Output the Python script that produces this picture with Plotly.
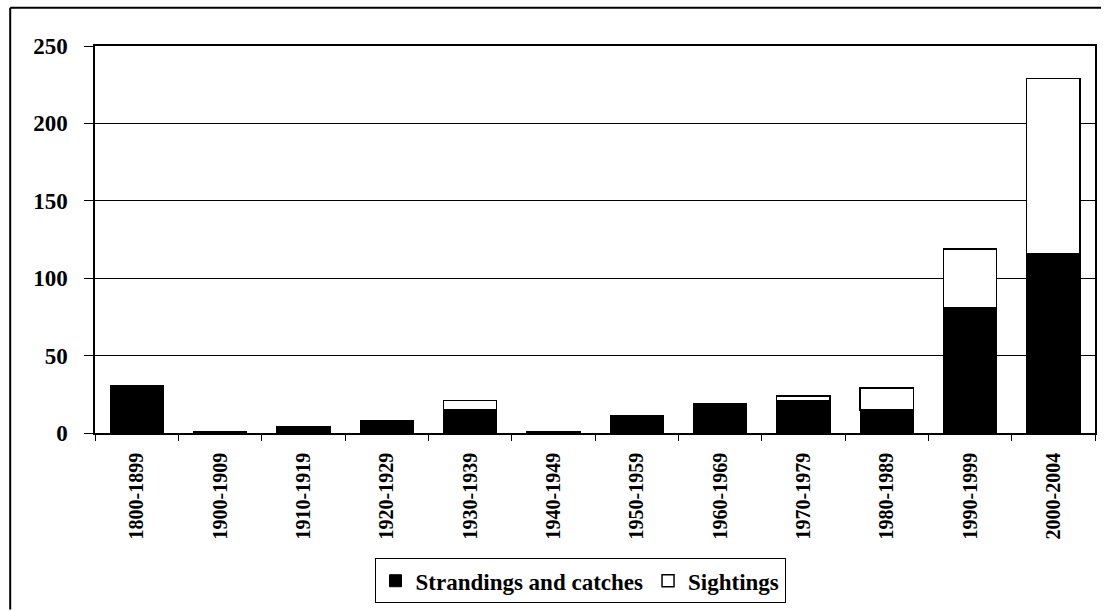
import plotly.graph_objects as go

categories = ["1800-1899", "1900-1909", "1910-1919", "1920-1929", "1930-1939",
              "1940-1949", "1950-1959", "1960-1969", "1970-1979", "1980-1989",
              "1990-1999", "2000-2004"]
strandings = [31, 1, 4, 8, 15, 1, 11, 19, 21, 15, 81, 116]
sightings = [None, None, None, None, 6, None, None, None, 3, 14, 38, 113]
y_ticks = [0, 50, 100, 150, 200, 250]

FONT = "Liberation Serif, Times New Roman, serif"

fig = go.Figure()
fig.add_trace(go.Bar(
    x=categories, y=strandings, name="Strandings and catches",
    marker=dict(color="black", line=dict(color="black", width=1)),
))
fig.add_trace(go.Bar(
    x=categories, y=sightings, name="Sightings",
    marker=dict(color="white", line=dict(color="black", width=1.5)),
))

border = dict(color="black", width=2)
fig.update_layout(
    barmode="stack",
    bargap=0.36,
    width=1104, height=611,
    margin=dict(l=95, r=7, t=46, b=177),
    paper_bgcolor="white", plot_bgcolor="white",
    font=dict(family=FONT, color="black"),
    showlegend=True,
    legend=dict(
        orientation="h", x=0.485, xanchor="center", y=-0.44, yanchor="bottom",
        bordercolor="black", borderwidth=1,
        font=dict(family=FONT, size=23, color="black", weight="bold"),
        traceorder="normal",
        itemwidth=30,
    ),
    xaxis=dict(
        type="category", tickson="boundaries", ticks="outside", ticklen=6,
        tickcolor="black", showline=True, linecolor="black", linewidth=1.5,
        mirror=True, tickangle=-90, ticklabelstandoff=10,
        tickfont=dict(family=FONT, size=20, color="black", weight="bold"),
        showgrid=False,
    ),
    yaxis=dict(
        range=[0, 250], tickvals=y_ticks, ticks="outside", ticklen=9,
        tickcolor="black", showline=True, linecolor="black", linewidth=1.5,
        mirror=True, gridcolor="black", gridwidth=1, ticklabelstandoff=12,
        tickfont=dict(family=FONT, size=23, color="black", weight="bold"),
        zeroline=False,
    ),
    shapes=[
        dict(type="line", xref="paper", yref="paper",
             x0=-0.0848, x1=-0.0848, y0=-0.456, y1=1.099, line=border),
        dict(type="line", xref="paper", yref="paper",
             x0=-0.0848, x1=1.006, y0=1.099, y1=1.099, line=border),
    ],
)

fig.write_html(
    "out.html", config={"displayModeBar": False},
    post_script=(
        "document.documentElement.style.margin='0';"
        "document.documentElement.style.overflow='hidden';"
        "document.body.style.margin='0';"
        "document.body.style.overflow='hidden';"
    ),
)
